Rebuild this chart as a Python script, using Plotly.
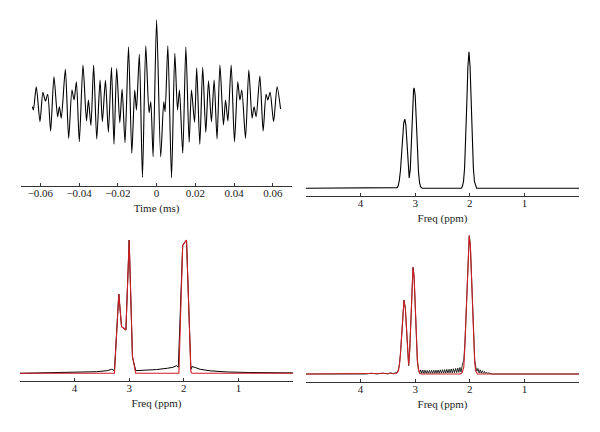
import plotly.graph_objects as go
from plotly.subplots import make_subplots

# time domain echo (ms, arbitrary amplitude)
echo_t = [-0.0641, -0.0636, -0.0621, -0.0602, -0.0587, -0.0574, -0.0562, -0.0547, -0.0530, -0.0511,
          -0.0502, -0.0492, -0.0471, -0.0454, -0.0437, -0.0426, -0.0414, -0.0399, -0.0380, -0.0362,
          -0.0352, -0.0339, -0.0325, -0.0309, -0.0292, -0.0280, -0.0264, -0.0249, -0.0233, -0.0220,
          -0.0206, -0.0190, -0.0178, -0.0163, -0.0145, -0.0128, -0.0113, -0.0104, -0.0089, -0.0073,
          -0.0056, -0.0039, -0.0030, -0.0018, 0.0,
          0.0021, 0.0037, 0.0044, 0.0058, 0.0077, 0.0094, 0.0108, 0.0118, 0.0135, 0.0151,
          0.0168, 0.0180, 0.0196, 0.0207, 0.0223, 0.0238, 0.0254, 0.0268, 0.0283, 0.0297,
          0.0312, 0.0327, 0.0345, 0.0356, 0.0368, 0.0385, 0.0402, 0.0419, 0.0430, 0.0440,
          0.0459, 0.0476, 0.0493, 0.0503, 0.0514, 0.0533, 0.0550, 0.0565, 0.0574, 0.0586,
          0.0604, 0.0622, 0.0640]
echo_amp = [-0.020, -0.059, 0.215, -0.196, 0.149, 0.047, 0.126, -0.306, 0.333, -0.138,
            -0.020, -0.156, 0.420, -0.392, 0.176, 0.059, 0.274, -0.432, 0.471, -0.188,
            0.059, -0.241, 0.471, -0.400, 0.294, -0.196, 0.291, -0.321, 0.444, -0.462,
            0.432, -0.208, 0.188, -0.444, 0.686, -0.568, 0.176, -0.059, 0.596, -0.851,
            0.698, -0.091, 0.039, -0.608, 1.000,
            -0.608, 0.039, -0.079, 0.698, -0.855, 0.608, -0.059, 0.176, -0.568, 0.686,
            -0.439, 0.176, -0.204, 0.439, -0.462, 0.444, -0.321, 0.286, -0.196, 0.294,
            -0.400, 0.471, -0.235, 0.059, -0.188, 0.471, -0.432, 0.274, 0.059, 0.176,
            -0.392, 0.412, -0.156, -0.020, -0.138, 0.341, -0.306, 0.126, 0.059, 0.149,
            -0.196, 0.215, -0.047]

# ideal spectrum (ppm)
spec_ppm = [5.0, 3.40, 3.33, 3.31, 3.29, 3.27, 3.25, 3.23, 3.21, 3.19, 3.17, 3.15, 3.13, 3.11,
            3.09, 3.07, 3.05, 3.03, 3.02, 3.00, 2.98, 2.96, 2.94, 2.92, 2.90, 2.87,
            2.155, 2.135, 2.115, 2.095, 2.075, 2.055, 2.035, 2.015, 1.995, 1.975, 1.955,
            1.935, 1.915, 1.895, 1.875, 0.0]
spec_amp = [0.0, 0.0, 0.005, 0.02, 0.06, 0.13, 0.25, 0.38, 0.48, 0.507, 0.46, 0.33, 0.17, 0.075,
            0.14, 0.35, 0.58, 0.72, 0.736, 0.68, 0.50, 0.28, 0.12, 0.04, 0.01, 0.0,
            0.0, 0.014, 0.05, 0.15, 0.34, 0.62, 0.89, 1.0, 0.89, 0.62, 0.34,
            0.15, 0.05, 0.014, 0.0, 0.0]

# coarse reconstruction: black = reference, red = estimate
coarse_ppm_black = [5.0, 4.5, 4.0, 3.6, 3.4, 3.32, 3.27, 3.19, 3.14, 3.06, 3.0, 2.94, 2.88,
                    2.5, 2.3, 2.2, 2.13, 2.10, 2.02, 1.95, 1.87, 1.85, 1.8, 1.7, 1.5, 1.2, 0.8, 0.0]
coarse_amp_black = [0.0, 0.003, 0.006, 0.012, 0.02, 0.03, 0.02, 0.595, 0.35, 0.325, 1.0, 0.125, 0.02,
                    0.028, 0.038, 0.045, 0.057, 0.045, 0.96, 1.0, 0.03, 0.05, 0.045, 0.03, 0.018, 0.01, 0.006, 0.003]
coarse_ppm_red = [5.0, 3.27, 3.19, 3.14, 3.06, 3.0, 2.94, 2.88, 2.09, 2.02, 1.95, 1.87, 1.85, 0.0]
coarse_amp_red = [0.0, 0.0, 0.595, 0.35, 0.325, 1.0, 0.125, 0.0, 0.0, 0.96, 1.0, 0.012, 0.0, 0.0]

# fine reconstruction: black with truncation ringing, red smooth
fine_ppm_black = [5.0, 4.0, 3.9, 3.8, 3.7, 3.6, 3.5, 3.45, 3.4, 3.36, 3.33, 3.31, 3.29, 3.27, 3.25,
                  3.23, 3.205, 3.18, 3.16, 3.14, 3.12, 3.10, 3.08, 3.06, 3.04, 3.02, 3.0, 2.98,
                  2.96, 2.94, 2.92, 2.90, 2.88, 2.86, 2.84, 2.82, 2.80, 2.78, 2.76, 2.74, 2.72,
                  2.70, 2.68, 2.66, 2.64, 2.62, 2.60, 2.58, 2.56, 2.54, 2.52, 2.50, 2.48, 2.46,
                  2.44, 2.42, 2.40, 2.38, 2.36, 2.34, 2.32, 2.30, 2.28, 2.26, 2.24, 2.22, 2.20,
                  2.18, 2.16, 2.14, 2.11, 2.09, 2.07, 2.05, 2.03, 2.01, 1.99, 1.97, 1.95, 1.93,
                  1.91, 1.89, 1.87, 1.85, 1.83, 1.81, 1.79, 1.77, 1.75, 1.73, 1.71, 1.69, 1.67,
                  1.65, 1.6, 1.5, 1.0, 0.0]
fine_amp_black = [0.0, 0.004, 0.0, 0.006, 0.0, 0.007, 0.0, 0.01, 0.0, 0.012, 0.01, 0.03, 0.07, 0.15, 0.27,
                  0.41, 0.532, 0.47, 0.30, 0.13, 0.06, 0.18, 0.42, 0.66, 0.768, 0.70, 0.50, 0.26,
                  0.09, 0.036, 0.005, 0.03, 0.005, 0.028, 0.004, 0.027, 0.004, 0.026, 0.004, 0.026, 0.004,
                  0.027, 0.004, 0.027, 0.005, 0.028, 0.005, 0.029, 0.005, 0.030, 0.006, 0.031, 0.006, 0.032,
                  0.007, 0.033, 0.007, 0.034, 0.008, 0.036, 0.008, 0.038, 0.009, 0.040, 0.010, 0.043, 0.012,
                  0.047, 0.015, 0.06, 0.10, 0.22, 0.42, 0.68, 0.90, 0.99, 0.93, 0.72, 0.46, 0.24,
                  0.10, 0.05, 0.02, 0.04, 0.008, 0.03, 0.006, 0.024, 0.005, 0.018, 0.004, 0.013, 0.003,
                  0.009, 0.0, 0.0, 0.0, 0.0]
fine_ppm_red = [5.0, 3.40, 3.34, 3.31, 3.29, 3.27, 3.25, 3.23, 3.205, 3.18, 3.16, 3.14, 3.13, 3.12,
                3.10, 3.08, 3.06, 3.04, 3.02, 3.0, 2.98, 2.96, 2.94, 2.92, 2.89,
                2.17, 2.14, 2.11, 2.09, 2.07, 2.05, 2.03, 2.01, 1.99, 1.97, 1.95, 1.93, 1.91,
                1.89, 1.86, 0.0]
fine_amp_red = [0.0, 0.0, 0.005, 0.02, 0.06, 0.14, 0.27, 0.41, 0.532, 0.47, 0.30, 0.13, 0.08, 0.065,
                0.17, 0.41, 0.65, 0.768, 0.70, 0.50, 0.26, 0.10, 0.03, 0.008, 0.0,
                0.0, 0.01, 0.05, 0.2, 0.42, 0.68, 0.92, 1.0, 0.92, 0.70, 0.44, 0.22, 0.08,
                0.02, 0.0, 0.0]

x_ticks_time = [-0.06, -0.04, -0.02, 0, 0.02, 0.04, 0.06]
x_ticklabels_time = ["−0.06", "−0.04", "−0.02", "0", "0.02", "0.04", "0.06"]
x_ticks_ppm = [4, 3, 2, 1]

red = "#cc1f24"
fig = make_subplots(rows=2, cols=2)
fig.add_trace(go.Scatter(x=echo_t, y=echo_amp, mode="lines", line=dict(color="black", width=1.1, shape="spline", smoothing=0.7)), row=1, col=1)
fig.add_trace(go.Scatter(x=spec_ppm, y=spec_amp, mode="lines", line=dict(color="black", width=1.1)), row=1, col=2)
fig.add_trace(go.Scatter(x=coarse_ppm_black, y=coarse_amp_black, mode="lines", line=dict(color="black", width=1)), row=2, col=1)
fig.add_trace(go.Scatter(x=coarse_ppm_red, y=coarse_amp_red, mode="lines", line=dict(color=red, width=1.1)), row=2, col=1)
fig.add_trace(go.Scatter(x=fine_ppm_black, y=fine_amp_black, mode="lines", line=dict(color="black", width=0.8)), row=2, col=2)
fig.add_trace(go.Scatter(x=fine_ppm_red, y=fine_amp_red, mode="lines", line=dict(color=red, width=1.1)), row=2, col=2)

axis_style = dict(showline=True, linecolor="#333", linewidth=1, ticks="inside", ticklen=3, tickcolor="#333",
                  showgrid=False, zeroline=False, ticklabelstandoff=-3,
                  tickfont=dict(family="Liberation Serif", size=11, color="#222"),
                  title_font=dict(family="Liberation Serif", size=11, color="#222"), title_standoff=6)
fig.update_xaxes(axis_style)
fig.update_yaxes(visible=False)

fig.update_xaxes(domain=[0.035, 0.487], range=[-0.07, 0.07], tickvals=x_ticks_time, ticktext=x_ticklabels_time,
                 title_text="Time (ms)", row=1, col=1)
fig.update_xaxes(domain=[0.51, 0.965], range=[5, 0], tickvals=x_ticks_ppm, title_text="Freq (ppm)", row=1, col=2)
fig.update_xaxes(domain=[0.0333, 0.4883], range=[5, 0], tickvals=x_ticks_ppm, title_text="Freq (ppm)", row=2, col=1)
fig.update_xaxes(domain=[0.51, 0.965], range=[5, 0], tickvals=x_ticks_ppm, title_text="Freq (ppm)", row=2, col=2)

fig.update_yaxes(domain=[0.5694, 0.9653], range=[-0.953, 1.059], row=1, col=1)
fig.update_yaxes(domain=[0.5463, 0.9653], range=[-0.0564, 1.2687], row=1, col=2)
fig.update_yaxes(domain=[0.118, 0.4792], range=[-0.0578, 1.1125], row=2, col=1)
fig.update_yaxes(domain=[0.1164, 0.4792], range=[-0.0554, 1.072], row=2, col=2)

fig.update_layout(width=600, height=432, margin=dict(l=0, r=0, t=0, b=0), showlegend=False,
                  plot_bgcolor="white", paper_bgcolor="white")
fig.write_html("out.html", config={"displayModeBar": False},
               post_script="document.body.style.margin='0';")
